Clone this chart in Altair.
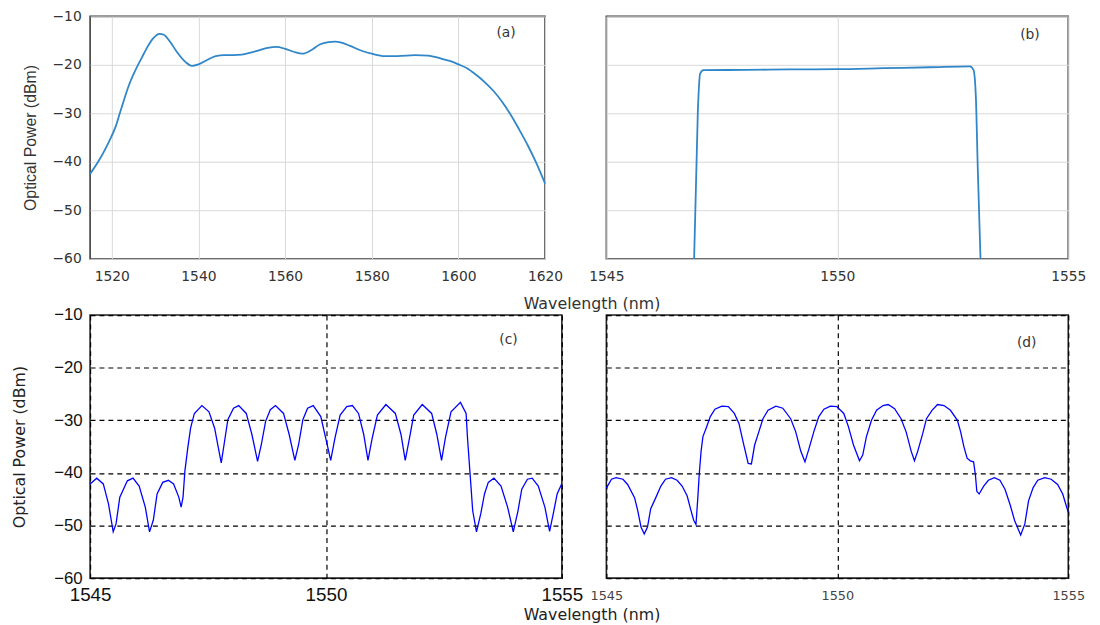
import altair as alt
import pandas as pd

# ---------------- data ----------------
# (a) broadband spectrum
a_wl = [1515, 1517, 1519, 1521, 1522, 1524, 1526, 1527, 1528, 1529.5, 1531, 1532, 1533.5, 1535, 1537,
        1538.5, 1540, 1542, 1544, 1546, 1548, 1550, 1552, 1554, 1556, 1558, 1560, 1562, 1564,
        1566, 1568, 1570, 1571.5, 1573, 1575, 1578, 1580, 1583, 1586, 1590, 1593, 1596, 1598,
        1600, 1602, 1604, 1606, 1608, 1610, 1612, 1614, 1616, 1618, 1620]
a_pw = [-42.5, -39.8, -36.5, -32.5, -29.6, -24.1, -20.1, -18.4, -16.7, -14.6, -13.6, -13.8, -15.3, -17.3, -19.4,
        -20.2, -19.9, -19.0, -18.2, -18.0, -18.0, -17.9, -17.5, -17.0, -16.5, -16.3, -16.7, -17.3, -17.7,
        -17.0, -15.8, -15.3, -15.2, -15.4, -16.1, -17.2, -17.7, -18.2, -18.2, -18.0, -18.1, -18.7, -19.2,
        -19.9, -20.7, -22.0, -23.5, -25.3, -27.5, -30.2, -33.3, -36.6, -40.3, -44.5]

# (b) filtered flat-top spectrum
b_wl = [1546.90, 1546.98, 1547.03, 1547.10, 1548.0, 1549.0, 1550.0, 1551.0, 1552.0,
        1552.87, 1552.95, 1553.00, 1553.04, 1553.10]
b_pw = [-60, -29.6, -21.8, -21.1, -21.05, -20.95, -20.9, -20.7, -20.5,
        -20.3, -21.1, -26.8, -41.1, -60]

# (c) comb spectrum
c_wl = [1545.00, 1545.14, 1545.28, 1545.39, 1545.49, 1545.55, 1545.63, 1545.79, 1545.91, 1546.04,
        1546.17, 1546.26, 1546.34, 1546.42, 1546.54, 1546.66, 1546.77, 1546.88, 1546.93, 1546.97,
        1547.01, 1547.07, 1547.13, 1547.21, 1547.37, 1547.52, 1547.64, 1547.72, 1547.78, 1547.84,
        1547.92, 1548.04, 1548.15, 1548.31, 1548.43, 1548.55, 1548.63, 1548.72, 1548.82, 1548.93,
        1549.10, 1549.22, 1549.34, 1549.42, 1549.51, 1549.61, 1549.73, 1549.89, 1550.01, 1550.10,
        1550.19, 1550.30, 1550.44, 1550.56, 1550.69, 1550.80, 1550.89, 1550.98, 1551.09, 1551.27,
        1551.47, 1551.59, 1551.68, 1551.77, 1551.86, 1552.04, 1552.24, 1552.35, 1552.45, 1552.53,
        1552.65, 1552.85, 1552.97, 1553.00, 1553.06, 1553.11, 1553.19, 1553.28, 1553.36, 1553.44,
        1553.56, 1553.71, 1553.85, 1553.97, 1554.07, 1554.15, 1554.27, 1554.37, 1554.50, 1554.64,
        1554.74, 1554.83, 1554.90, 1555.00]
c_pw = [-42.1, -41.0, -42.1, -45.9, -51.2, -49.7, -44.6, -41.5, -41.0, -42.5,
        -46.5, -51.2, -49.0, -44.0, -41.8, -41.4, -42.1, -44.6, -46.5, -44.6,
        -39.6, -35.3, -31.5, -28.7, -27.2, -28.4, -31.5, -35.3, -38.1, -34.6,
        -29.9, -27.7, -27.2, -28.7, -32.7, -37.8, -34.6, -30.2, -28.0, -27.2,
        -28.7, -32.7, -37.6, -34.6, -29.9, -27.7, -27.2, -29.3, -34.0, -37.6,
        -33.4, -29.0, -27.4, -27.2, -28.7, -32.7, -37.6, -33.4, -29.0, -27.0,
        -28.7, -32.7, -37.6, -33.4, -29.0, -27.0, -28.7, -32.7, -37.6, -33.4,
        -28.4, -26.6, -28.7, -33.4, -40.9, -47.2, -51.2, -47.8, -44.0, -41.8,
        -41.0, -42.5, -46.5, -51.2, -47.2, -43.1, -41.2, -41.0, -42.5, -46.5,
        -51.1, -47.2, -44.0, -42.0]

# (d) comb spectrum
d_wl = [1545.00, 1545.11, 1545.21, 1545.36, 1545.46, 1545.61, 1545.68, 1545.75, 1545.82, 1545.89,
        1545.96, 1546.07, 1546.18, 1546.28, 1546.41, 1546.53, 1546.64, 1546.75, 1546.82, 1546.89,
        1546.94, 1546.98, 1547.01, 1547.05, 1547.09, 1547.16, 1547.25, 1547.35, 1547.50, 1547.64,
        1547.77, 1547.87, 1547.96, 1548.07, 1548.14, 1548.21, 1548.30, 1548.39, 1548.50, 1548.67,
        1548.82, 1548.99, 1549.10, 1549.21, 1549.30, 1549.39, 1549.49, 1549.60, 1549.71, 1549.85,
        1549.99, 1550.14, 1550.24, 1550.35, 1550.48, 1550.55, 1550.63, 1550.74, 1550.85, 1550.99,
        1551.10, 1551.24, 1551.38, 1551.49, 1551.60, 1551.67, 1551.74, 1551.85, 1551.93, 1552.05,
        1552.17, 1552.31, 1552.45, 1552.60, 1552.67, 1552.74, 1552.81, 1552.88, 1552.95, 1552.99,
        1553.02, 1553.07, 1553.17, 1553.27, 1553.40, 1553.52, 1553.63, 1553.74, 1553.84, 1553.97,
        1554.06, 1554.14, 1554.24, 1554.34, 1554.49, 1554.63, 1554.77, 1554.88, 1555.00]
d_pw = [-42.9, -41.2, -40.9, -41.2, -42.2, -44.7, -47.2, -50.3, -51.6, -50.3,
        -46.8, -44.7, -42.5, -41.2, -40.9, -41.4, -42.5, -44.4, -46.8, -49.0,
        -49.8, -44.7, -40.3, -35.9, -33.1, -31.5, -29.3, -27.9, -27.3, -27.4,
        -28.7, -30.6, -34.1, -38.2, -38.3, -34.7, -32.2, -29.7, -28.1, -27.3,
        -27.7, -29.7, -32.2, -35.9, -37.9, -35.3, -32.2, -29.3, -27.9, -27.3,
        -27.4, -28.7, -31.2, -34.7, -37.7, -36.6, -33.1, -30.0, -28.1, -27.2,
        -27.0, -27.8, -29.7, -32.2, -35.9, -37.7, -35.9, -32.5, -29.7, -28.1,
        -27.0, -27.2, -28.1, -30.0, -32.2, -35.0, -37.2, -37.7, -37.9, -40.4,
        -43.5, -44.0, -42.5, -41.4, -40.9, -41.4, -43.1, -46.0, -49.1, -51.8,
        -49.7, -45.3, -42.8, -41.4, -40.9, -41.2, -42.2, -44.0, -47.5]

# panel tags and their positions (data coordinates)
tags = ["(a)", "(b)", "(c)", "(d)"]
tag_x = [1611.0, 1554.17, 1553.87, 1554.1]
tag_y = [-13.5, -13.9, -14.7, -15.3]

y_ticks = [-60, -50, -40, -30, -20, -10]
a_ticks = [1520, 1540, 1560, 1580, 1600, 1620]
n_ticks = [1545, 1550, 1555]

Y_TITLE = "Optical Power (dBm)"
X_TITLE = "Wavelength (nm)"

ydom = alt.Scale(domain=[-60, -10], nice=False, zero=False)


def tag_layer(i, xscale, font, size):
    df = pd.DataFrame({"x": [tag_x[i]], "y": [tag_y[i]], "t": [tags[i]]})
    return alt.Chart(df).mark_text(font=font, fontSize=size, color="#333333",
                                   align="center", baseline="middle").encode(
        x=alt.X("x:Q", scale=xscale), y=alt.Y("y:Q", scale=ydom), text="t:N")


# ---------- panel (a) ----------
xa = alt.Scale(domain=[1515, 1620], nice=False, zero=False)
la = alt.Chart(pd.DataFrame({"wl": a_wl, "pw": a_pw})).mark_line(
    color="#2f86c8", strokeWidth=1.8, interpolate="monotone").encode(
    x=alt.X("wl:Q", scale=xa, axis=alt.Axis(
        values=a_ticks, format="d", title=X_TITLE, titleX=507, titleY=37, titleAlign="center",
        titleFont="DejaVu Sans", titleFontSize=16, titleFontWeight="normal", titleColor="#333333",
        labelFont="DejaVu Sans", labelFontSize=14, labelColor="#333333", labelPadding=11,
        labelFlush=False, labelOverlap=False, ticks=False, domain=False,
        grid=True, gridColor="#d9d9d9", gridWidth=1)),
    y=alt.Y("pw:Q", scale=ydom, axis=alt.Axis(
        values=y_ticks, format="d", title=Y_TITLE, titleFont="Liberation Sans", titleFontSize=16,
        titleFontWeight="normal", titleColor="#333333", titlePadding=14,
        labelFont="DejaVu Sans", labelFontSize=14, labelColor="#333333", labelPadding=9,
        labelFlush=False, labelOverlap=False, ticks=False, domain=False,
        grid=True, gridColor="#d9d9d9", gridWidth=1)))
pa = alt.layer(la, tag_layer(0, xa, "DejaVu Sans", 14)).properties(
    width=460, height=245, view=alt.ViewBackground(stroke="#3a3a3a", strokeWidth=1.6))

# ---------- panel (b) ----------
xb = alt.Scale(domain=[1545, 1555], nice=False, zero=False)
lb = alt.Chart(pd.DataFrame({"wl": b_wl, "pw": b_pw})).mark_line(
    color="#2f86c8", strokeWidth=1.8, interpolate="monotone").encode(
    x=alt.X("wl:Q", scale=xb, axis=alt.Axis(
        values=n_ticks, format="d", title=None,
        labelFont="DejaVu Sans", labelFontSize=14, labelColor="#333333", labelPadding=11,
        labelFlush=False, labelOverlap=False, ticks=False, domain=False,
        grid=True, gridColor="#d9d9d9", gridWidth=1)),
    y=alt.Y("pw:Q", scale=ydom, axis=alt.Axis(
        values=y_ticks, title=None, labels=False, ticks=False, domain=False,
        grid=True, gridColor="#d9d9d9", gridWidth=1)))
pb = alt.layer(lb, tag_layer(1, xb, "DejaVu Sans", 14)).properties(
    width=467, height=245, view=alt.ViewBackground(stroke="#3a3a3a", strokeWidth=1.6))

# ---------- panel (c) ----------
xc = alt.Scale(domain=[1545, 1555], nice=False, zero=False)
lc = alt.Chart(pd.DataFrame({"wl": c_wl, "pw": c_pw})).mark_line(
    color="#0000ff", strokeWidth=1.3).encode(
    x=alt.X("wl:Q", scale=xc, axis=alt.Axis(
        values=n_ticks, format="d", title=X_TITLE, titleX=507, titleY=29, titleAlign="center",
        titleFont="DejaVu Sans", titleFontSize=16, titleFontWeight="normal", titleColor="#222222",
        labelFont="Liberation Sans", labelFontSize=19, labelColor="#111111", labelPadding=8,
        labelFlush=False, labelOverlap=False, ticks=False, domain=False,
        grid=True, gridColor="#000000", gridDash=[5, 4], gridWidth=1.2)),
    y=alt.Y("pw:Q", scale=ydom, axis=alt.Axis(
        values=y_ticks, format="d", title=Y_TITLE, titleFont="DejaVu Sans", titleFontSize=16,
        titleFontWeight="normal", titleColor="#222222", titlePadding=26,
        labelFont="Liberation Sans", labelFontSize=17, labelColor="#111111", labelPadding=8,
        labelFlush=False, labelOverlap=False, ticks=False, domain=False,
        grid=True, gridColor="#000000", gridDash=[5, 4], gridWidth=1.2)))
pc = alt.layer(lc, tag_layer(2, xc, "DejaVu Sans", 14)).properties(
    width=477, height=266, view=alt.ViewBackground(stroke="#222222", strokeWidth=1.6))

# ---------- panel (d) ----------
xd = alt.Scale(domain=[1545, 1555], nice=False, zero=False)
ld = alt.Chart(pd.DataFrame({"wl": d_wl, "pw": d_pw})).mark_line(
    color="#0000ff", strokeWidth=1.3).encode(
    x=alt.X("wl:Q", scale=xd, axis=alt.Axis(
        values=n_ticks, format="d", title=None,
        labelFont="DejaVu Sans", labelFontSize=13, labelColor="#444444", labelPadding=12,
        labelFlush=False, labelOverlap=False, ticks=False, domain=False,
        grid=True, gridColor="#000000", gridDash=[5, 4], gridWidth=1.2)),
    y=alt.Y("pw:Q", scale=ydom, axis=alt.Axis(
        values=y_ticks, title=None, labels=False, ticks=False, domain=False,
        grid=True, gridColor="#000000", gridDash=[5, 4], gridWidth=1.2)))
pd_ = alt.layer(ld, tag_layer(3, xd, "DejaVu Sans", 14)).properties(
    width=467, height=266, view=alt.ViewBackground(stroke="#222222", strokeWidth=1.6))

chart = alt.concat(pa, pb, pc, pd_, columns=2, spacing={"row": 57, "column": 45},
                   bounds="flush", align="each").properties(
    padding={"left": 3, "top": -3, "right": 5, "bottom": 5},
    background="white")

chart.save("out.html", embed_options={"renderer": "svg", "actions": False})
